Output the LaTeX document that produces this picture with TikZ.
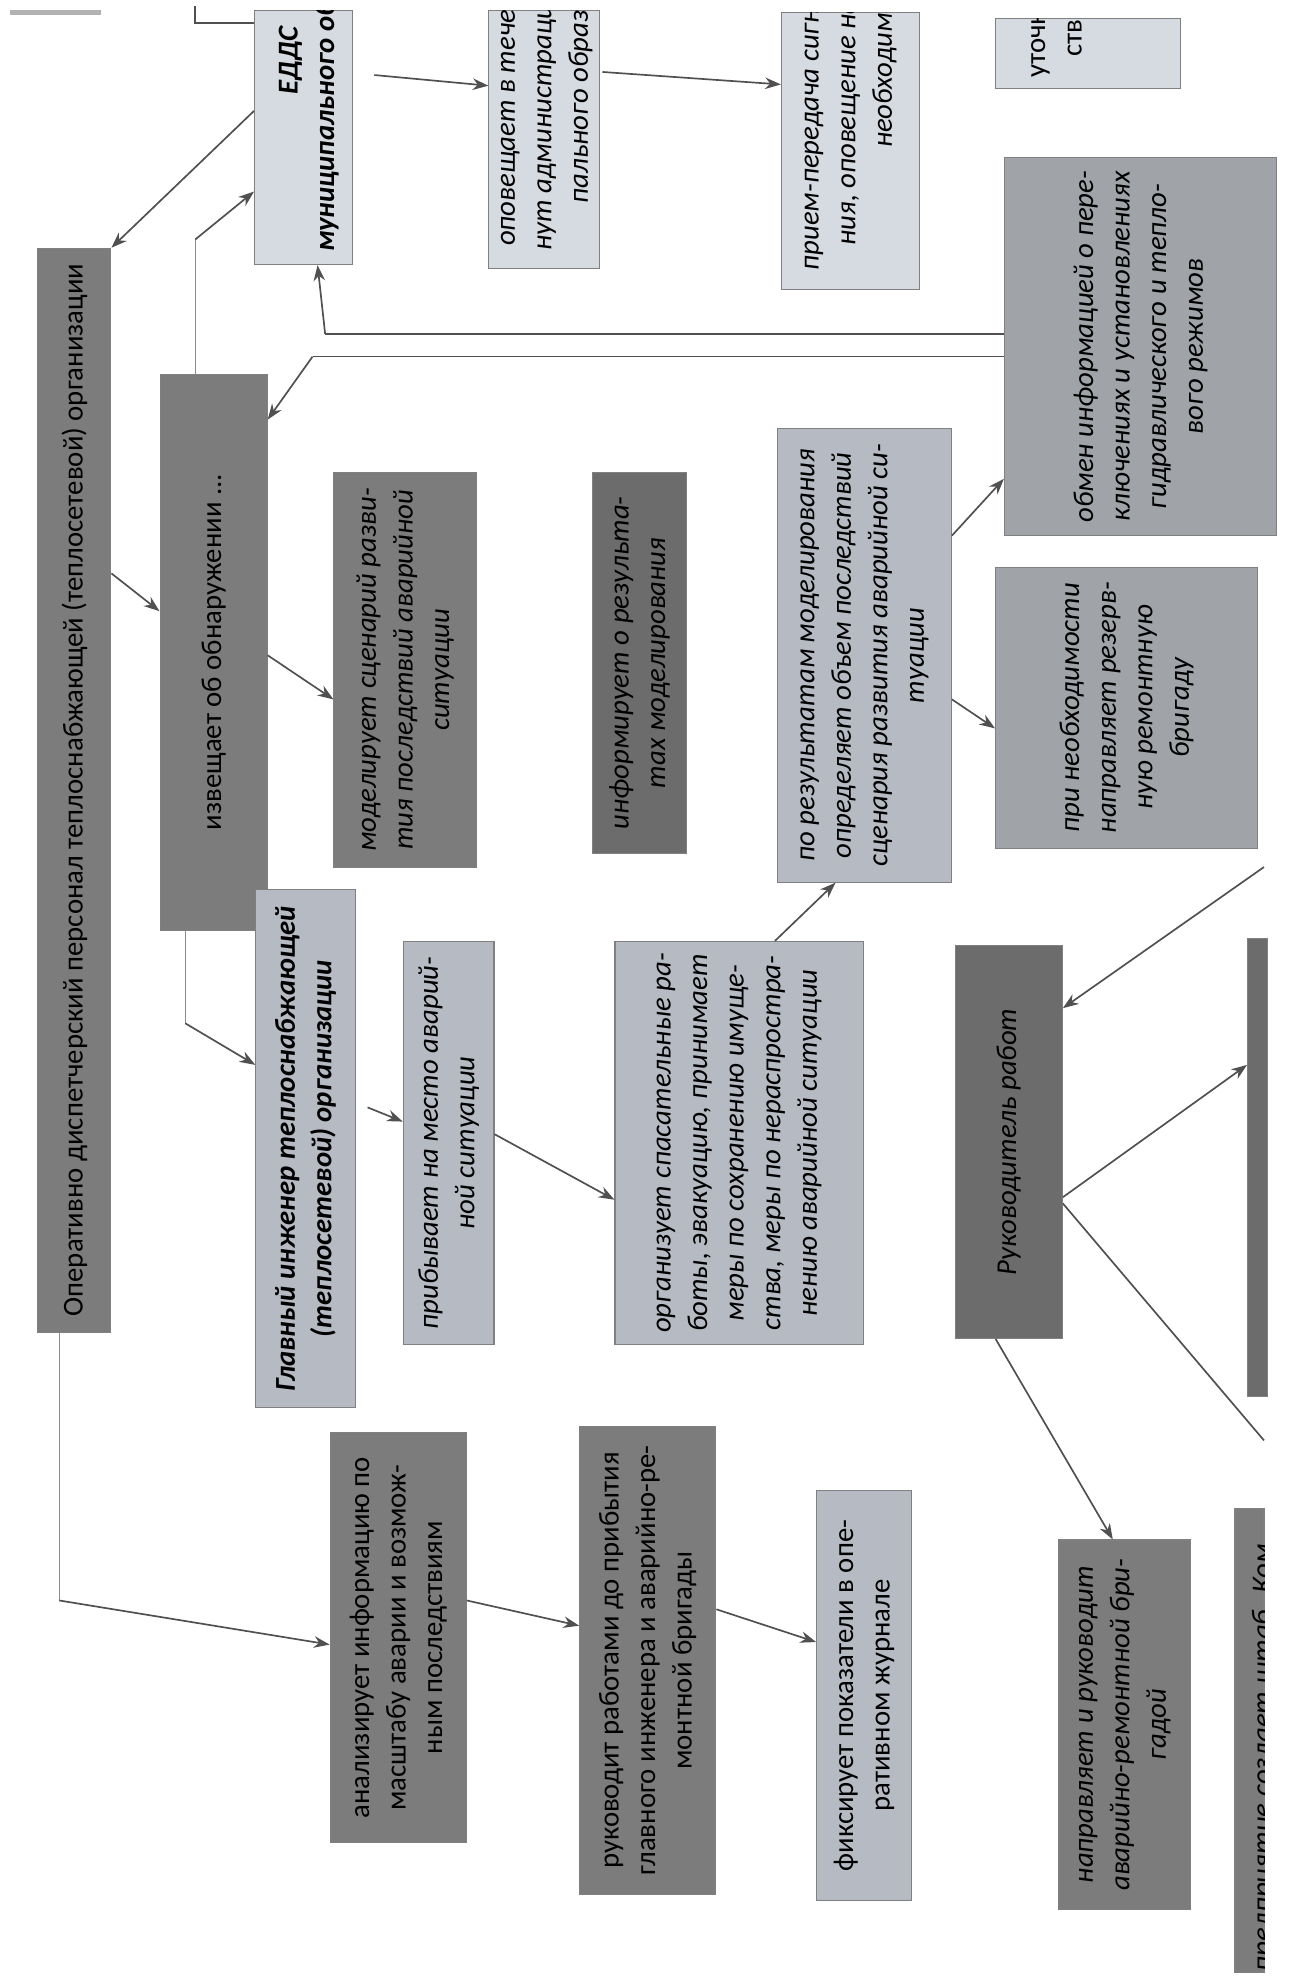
\documentclass[tikz,border=0pt]{standalone}
\usepackage{fontspec}
\setmainfont{Carlito}
\usetikzlibrary{arrows.meta,fit}
\definecolor{dk}{RGB}{124,124,124}
\definecolor{dkb}{RGB}{108,108,108}
\definecolor{md}{RGB}{160,163,168}
\definecolor{lb}{RGB}{214,218,225}
\definecolor{lm}{RGB}{182,187,195}
\definecolor{lnc}{RGB}{80,80,80}
\begin{document}
\begin{tikzpicture}[x=0.6pt,y=-0.6pt,
  box/.style={draw=black!50,line width=0.5pt,inner sep=0pt,rectangle},
  txt/.style={rotate=90,align=center,inner sep=0pt,text=black,font=\fontsize{13.7}{17.4}\selectfont},
  itx/.style={txt,font=\fontsize{13.7}{17.4}\selectfont\itshape},
  bitx/.style={txt,font=\fontsize{13.7}{17.4}\selectfont\bfseries\itshape},
  arr/.style={draw=lnc,line width=0.8pt,-{Stealth[length=7.5pt,width=5.5pt]}},
  lnk/.style={draw=lnc,line width=0.8pt},
  lnl/.style={draw=black!45,line width=0.6pt}]
\fill[white] (0,0) rectangle (1024,1568);
\useasboundingbox (0,0) rectangle (1024,1568);
\fill[black!30] (8,8) rectangle (80,12);

% ---- top row (boxes whose text is cut at the top)
\node[box,fill=lb,fit={(202,8)(280,210)}] (edds) {};
\begin{scope}\clip (202,8) rectangle (280,210);
\node[bitx] (eddsT) at (245,48) {ЕДДС\\муниципального образования};
\end{scope}
\node[box,fill=lb,fit={(388,8)(476,213)}] (opov) {};
\begin{scope}\clip (388,8) rectangle (476,213);
\node[itx,anchor=west] (opovT) at (432,199) {оповещает в течение 10 ми-\\нут администрацию муници-\\пального образования};
\end{scope}
\node[box,fill=lb,fit={(620,10)(730,230)}] (priem) {};
\begin{scope}\clip (620,10) rectangle (730,230);
\node[itx,anchor=west] (priemT) at (675,215) {прием-передача сигналов оповеще-\\ния, оповещение населения при\\необходимости};
\end{scope}
\node[box,fill=lb,fit={(790,15)(937,70)}] (utoch) {};
\begin{scope}\clip (790,15) rectangle (937,70);
\node[txt,anchor=west] (utochT) at (838,62) {уточняет информацию о послед-\\ствиях аварийной ситуации и};
\end{scope}

% ---- main boxes
\node[box,fill=dk,fit={(30,197)(88,1057)}] (oper) {};
\node[txt] (operT) at (oper.center) {Оперативно диспетчерский персонал теплоснабжающей (теплосетевой) организации};
\node[box,fill=dk,fit={(127,297)(212,738)}] (izv) {};
\node[txt] (izvT) at (izv.center) {извещает об обнаружении ...};
\node[box,fill=dk,fit={(265,375)(378,688)}] (model) {};
\node[itx] (modelT) at (model.center) {моделирует сценарий разви-\\тия последствий аварийной\\ситуации};
\node[box,fill=dkb,fit={(470,375)(545,677)}] (inform) {};
\node[itx] (informT) at (inform.center) {информирует о результа-\\тах моделирования};
\node[box,fill=lm,fit={(617,340)(755,700)}] (porez) {};
\node[itx] (porezT) at (porez.center) {по результатам моделирования\\определяет объем последствий\\сценария развития аварийной си-\\туации};
\node[box,fill=md,fit={(797,125)(1013,425)}] (obmen) {};
\node[itx] (obmenT) at (obmen.center) {обмен информацией о пере-\\ключениях и установлениях\\гидравлического и тепло-\\вого режимов};
\node[box,fill=md,fit={(790,450)(998,673)}] (prineo) {};
\node[itx] (prineoT) at (prineo.center) {при необходимости\\направляет резерв-\\ную ремонтную\\бригаду};
\node[box,fill=lm,fit={(203,706)(282,1117)}] (glav) {};
\node[bitx] (glavT) at (glav.center) {Главный инженер теплоснабжающей\\(теплосетевой) организации};
\node[box,fill=lm,fit={(320,747)(392,1067)}] (prib) {};
\node[itx] (pribT) at (prib.center) {прибывает на место аварий-\\ной ситуации};
\node[box,fill=lm,fit={(488,747)(685,1067)}] (org) {};
\node[itx] (orgT) at (org.center) {организует спасательные ра-\\боты, эвакуацию, принимает\\меры по сохранению имуще-\\ства, меры по нераспростра-\\нению аварийной ситуации};
\node[box,fill=dkb,fit={(758,750)(843,1062)}] (ruk) {};
\node[itx] (rukT) at (ruk.center) {Руководитель работ};
\node[box,fill=dkb,fit={(990,745)(1006,1108)}] (bar) {};
\node[box,fill=dk,fit={(840,1222)(945,1515)}] (napr) {};
\node[itx] (naprT) at (napr.center) {направляет и руководит\\аварийно-ремонтной бри-\\гадой};
\node[box,fill=dk,fit={(980,1197)(1003,1565)}] (brb) {};
\begin{scope}\clip (980,1197) rectangle (1003,1565);
\node[itx] (brbT) at (1003,1395) {предприятие создает штаб. Ком};
\end{scope}
\node[box,fill=dk,fit={(262,1137)(370,1462)}] (anal) {};
\node[txt] (analT) at (anal.center) {анализирует информацию по\\масштабу аварии и возмож-\\ным последствиям};
\node[box,fill=dk,fit={(460,1132)(568,1503)}] (ruk2) {};
\node[txt] (ruk2T) at (ruk2.center) {руководит работами до прибытия\\главного инженера и аварийно-ре-\\монтной бригады};
\node[box,fill=lm,fit={(648,1183)(723,1508)}] (fiks) {};
\node[txt] (fiksT) at (fiks.center) {фиксирует показатели в опе-\\ративном журнале};

% ---- coordinates for free ends and bends
\coordinate (ctop) at (155,5);
\coordinate (k1) at (155,190);
\coordinate (l1) at (258,265);
\coordinate (m1) at (248,283);
\coordinate (y1) at (147,812);
\coordinate (an1) at (47,1270);
\coordinate (rin) at (1003,688);
\coordinate (rout) at (1003,1143);

% ---- connectors
\draw[lnk] (ctop) |- (edds.west |- 0,18);
\draw[arr] (edds.west |- 0,88) -- (oper.north east);
\draw[lnl] (izv.north -| 155,0) -- (k1);
\draw[arr] (k1) -- (edds.west |- 0,152);
\draw[arr,shorten <=10pt] (edds.east |- 0,58) -- (opov.west |- 0,68);
\draw[arr,shorten <=1pt] (opov.east |- 0,57) -- (priem.west |- 0,67);
\draw[lnk] (obmen.west |- 0,265) -- (l1);
\draw[arr] (l1) -- (edds.south -| 252,0);
\draw[lnk] (obmen.west |- 0,283) -- (m1);
\draw[arr] (m1) -- (izv.east |- 0,333);
\draw[arr] (oper.east |- 0,455) -- (izv.west |- 0,485);
\draw[arr] (izv.east |- 0,520) -- (model.west |- 0,555);
\draw[arr] (porez.east |- 0,425) -- (obmen.west |- 0,380);
\draw[arr] (porez.east |- 0,555) -- (prineo.west |- 0,578);
\draw[lnl] (izv.south -| 147,0) -- (y1);
\draw[arr] (y1) -- (glav.west |- 0,845);
\draw[arr,shorten <=6pt] (glav.east |- 0,875) -- (prib.west |- 0,890);
\draw[arr] (prib.east |- 0,900) -- (org.west |- 0,952);
\draw[arr] (org.north -| 615,0) -- (porez.south -| 663,0);
\draw[arr] (rin) -- (ruk.east |- 0,800);
\draw[arr] (ruk.east |- 0,950) -- (bar.west |- 0,845);
\draw[lnk] (ruk.east |- 0,955) -- (rout);
\draw[arr] (ruk.south -| 790,0) -- (napr.north -| 883,0);
\draw[lnl] (oper.south -| 47,0) -- (an1);
\draw[arr] (an1) -- (anal.west |- 0,1305);
\draw[arr] (anal.east |- 0,1270) -- (ruk2.west |- 0,1290);
\draw[arr] (ruk2.east |- 0,1277) -- (fiks.west |- 0,1303);
\end{tikzpicture}
\end{document}
